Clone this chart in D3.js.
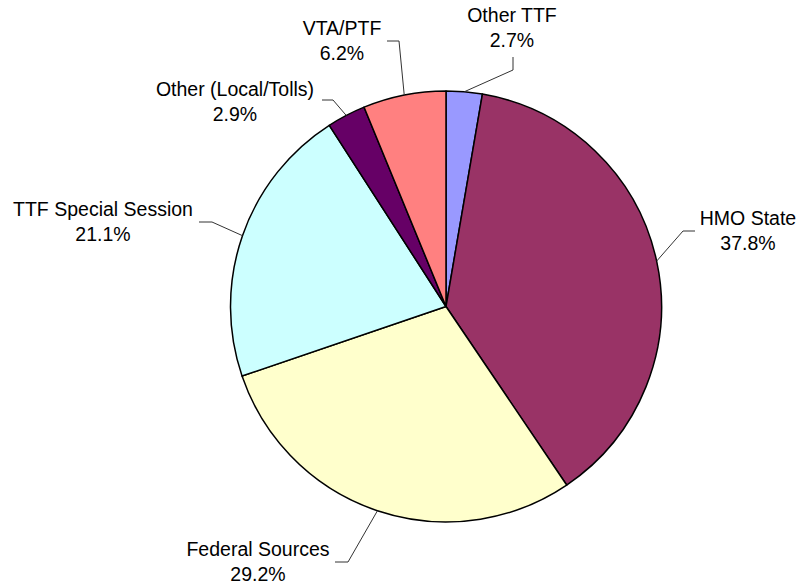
<!DOCTYPE html>
<html>
<head>
<meta charset="utf-8">
<script src="https://cdn.jsdelivr.net/npm/d3@7"></script>
<style>
  html, body { margin: 0; padding: 0; background: #fff; }
  svg { display: block; }
  text { font-family: "Liberation Sans", Arial, sans-serif; font-size: 19.5px; fill: #000; }
</style>
</head>
<body>
<div id="chart"></div>
<script>
const categories = ['Other TTF', 'HMO State', 'Federal Sources', 'TTF Special Session', 'Other (Local/Tolls)', 'VTA/PTF']
const shares = [2.7, 37.8, 29.2, 21.1, 2.9, 6.2]
const pctLabels = ['2.7%', '37.8%', '29.2%', '21.1%', '2.9%', '6.2%']
const colors = ['#9999ff', '#993366', '#ffffcc', '#ccffff', '#660066', '#ff8080']

const WIDTH = 799, HEIGHT = 587
const CX = 446, CY = 306.5, R = 215.5

// label placement (center x, first baseline) and leader knees, in order of categories
const labelPos = [[512, 22], [748, 225], [258, 556], [103, 216], [235, 96], [342, 35]]
const leaderKnees = [
	[[513, 57], [513, 70]],
	[[695, 231], [683, 231]],
	[[335, 562], [348, 562]],
	[[199, 222], [212, 222]],
	[[322, 100], [333, 100]],
	[[387, 41], [399, 41]]
]

const data = categories.map((c, i) => ({ name: c, value: shares[i], pct: pctLabels[i], color: colors[i] }))

const svg = d3.select('#chart').append('svg')
	.attr('width', WIDTH)
	.attr('height', HEIGHT)

const g = svg.append('g').attr('transform', `translate(${CX}, ${CY})`)

const pie = d3.pie().sort(null).value(d => d.value)
const arcs = pie(data)
const arc = d3.arc().innerRadius(0).outerRadius(R)

g.selectAll('path.slice')
	.data(arcs)
	.join('path')
	.attr('class', 'slice')
	.attr('d', arc)
	.attr('fill', d => d.data.color)
	.attr('stroke', '#000')
	.attr('stroke-width', 1.5)
	.attr('stroke-linejoin', 'round')

//leader lines from slice edge to label
const line = d3.line()
svg.selectAll('path.leader')
	.data(arcs)
	.join('path')
	.attr('class', 'leader')
	.attr('d', (d, i) => {
		const a = (d.startAngle + d.endAngle) / 2
		const edge = [CX + R * Math.sin(a), CY - R * Math.cos(a)]
		return line([leaderKnees[i][0], leaderKnees[i][1], edge])
	})
	.attr('fill', 'none')
	.attr('stroke', '#333')
	.attr('stroke-width', 1)

const labels = svg.selectAll('text.lbl')
	.data(arcs)
	.join('text')
	.attr('class', 'lbl')
	.attr('text-anchor', 'middle')
	.attr('x', (d, i) => labelPos[i][0])
	.attr('y', (d, i) => labelPos[i][1])

labels.append('tspan')
	.attr('x', (d, i) => labelPos[i][0])
	.text(d => d.data.name)
labels.append('tspan')
	.attr('x', (d, i) => labelPos[i][0])
	.attr('dy', 25)
	.text(d => d.data.pct)
</script>
</body>
</html>
